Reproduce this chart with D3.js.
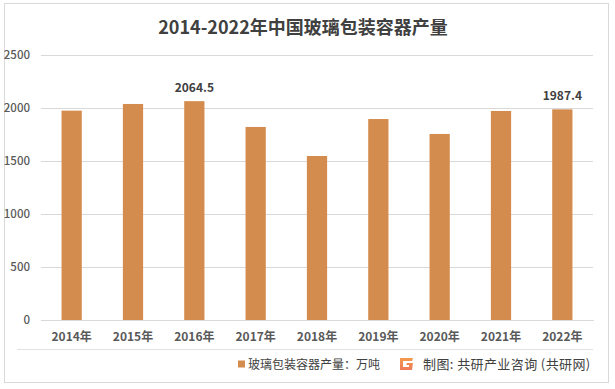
<!DOCTYPE html>
<html><head><meta charset="utf-8">
<script src="https://cdn.jsdelivr.net/npm/d3@7"></script>
<style>
html,body{margin:0;padding:0;background:#fff;}
svg{display:block;font-family:"Noto Sans CJK SC","Noto Sans",sans-serif;}
</style></head>
<body><svg id="c" width="615" height="389"></svg>
<script>
const title = "2014-2022年中国玻璃包装容器产量";
const categories = ["2014年","2015年","2016年","2017年","2018年","2019年","2020年","2021年","2022年"];
const values = [1975, 2038, 2064.5, 1821, 1547, 1896, 1755, 1972, 1987.4];
const labeledIndex = [2, 8];
const yTicks = [0, 500, 1000, 1500, 2000, 2500];
const legendLabel = "玻璃包装容器产量：万吨";
const sourceLabel = "制图: 共研产业咨询 (共研网)";

const svg = d3.select("#c");
const W = 615, H = 389;
const m = {left: 41, right: 22, top: 55, bottom: 69};
const x = d3.scaleBand().domain(categories).range([m.left, W - m.right]).paddingInner(0.67).paddingOuter(0.335);
const y = d3.scaleLinear().domain([0, 2500]).range([H - m.bottom, m.top]);

// outer border
svg.append("rect").attr("x", 4.5).attr("y", 3.5).attr("width", 604).attr("height", 379)
  .attr("fill", "#fff").attr("stroke", "#d9d9d9").attr("stroke-width", 1);

// title
svg.append("text").attr("x", 303).attr("y", 34).attr("text-anchor", "middle")
  .attr("font-size", 18).attr("font-weight", "bold").attr("fill", "#404040").text(title);

// grid
const yAxis = d3.axisLeft(y).tickValues(yTicks).tickSize(-(W - m.left - m.right)).tickPadding(11).tickFormat(d3.format("d"));
const gy = svg.append("g").attr("transform", `translate(${m.left},0)`).call(yAxis);
gy.select(".domain").remove();
gy.selectAll(".tick line").attr("stroke", "#d9d9d9").attr("shape-rendering", "crispEdges");
gy.selectAll(".tick text").attr("font-size", 11.5).attr("fill", "#595959").attr("font-weight", 500).attr("font-family", "'Noto Sans CJK SC',sans-serif");

// bars
svg.append("g").selectAll("rect").data(values).join("rect")
  .attr("x", (d, i) => x(categories[i]))
  .attr("width", x.bandwidth())
  .attr("y", d => y(d))
  .attr("height", d => y(0) - y(d))
  .attr("fill", "#d38c4d");

// value labels
svg.append("g").selectAll("text").data(labeledIndex).join("text")
  .attr("x", i => x(categories[i]) + x.bandwidth() / 2)
  .attr("y", i => y(values[i]) - 9)
  .attr("text-anchor", "middle").attr("font-size", 12).attr("font-weight", 600).attr("fill", "#404040")
  .text(i => values[i]);

// x axis
const xAxis = d3.axisBottom(x).tickSize(0).tickPadding(12);
const gx = svg.append("g").attr("transform", `translate(0,${y(0)})`).call(xAxis);
gx.select(".domain").attr("stroke", "#d9d9d9").attr("shape-rendering", "crispEdges");
gx.selectAll(".tick text").attr("font-size", 12).attr("fill", "#595959").attr("font-weight", 600)
  .attr("font-family", "'Noto Sans CJK SC',sans-serif");

// separator line
svg.append("line").attr("x1", 17).attr("x2", 593).attr("y1", 349.5).attr("y2", 349.5)
  .attr("stroke", "#e3e3e3");

// legend
svg.append("rect").attr("x", 238).attr("y", 360.5).attr("width", 7).attr("height", 7).attr("fill", "#d38c4d");
svg.append("text").attr("x", 248).attr("y", 368.5).attr("font-size", 12).attr("fill", "#404040").text(legendLabel);

// logo
const defs = svg.append("defs");
const lg = defs.append("linearGradient").attr("id", "lg").attr("x1", 0).attr("y1", 0).attr("x2", 0).attr("y2", 1);
lg.append("stop").attr("offset", 0).attr("stop-color", "#f39a4c");
lg.append("stop").attr("offset", 1).attr("stop-color", "#f07a5a");
svg.append("path")
  .attr("d", "M400,358 L413,358 L412,361 L403,361 L403,367 L409,367 L409,365 L406,365 L407,363 L413,363 L412,370 L400,370 Z")
  .attr("fill", "url(#lg)");

svg.append("text").attr("x", 423).attr("y", 369).attr("font-size", 13).attr("letter-spacing", 0.4)
  .attr("fill", "#404040").text(sourceLabel);
</script></body></html>
